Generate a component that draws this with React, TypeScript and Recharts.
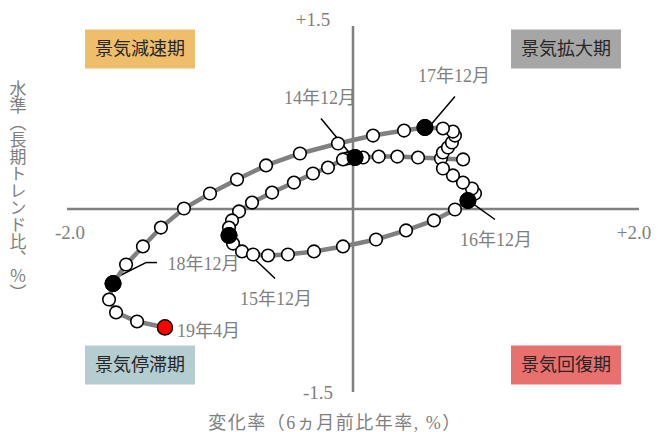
import {
  ScatterChart, Scatter, XAxis, YAxis,
  ReferenceLine, ReferenceArea, ReferenceDot, Label,
} from 'recharts';

// monthly points, 2014/6 - 2019/4
const months = [
  '14/6', '14/7', '14/8', '14/9', '14/10', '14/11', '14/12',
  '15/1', '15/2', '15/3', '15/4', '15/5', '15/6', '15/7', '15/8', '15/9', '15/10', '15/11', '15/12',
  '16/1', '16/2', '16/3', '16/4', '16/5', '16/6', '16/7', '16/8', '16/9', '16/10', '16/11', '16/12',
  '17/1', '17/2', '17/3', '17/4', '17/5', '17/6', '17/7', '17/8', '17/9', '17/10', '17/11', '17/12',
  '18/1', '18/2', '18/3', '18/4', '18/5', '18/6', '18/7', '18/8', '18/9', '18/10', '18/11', '18/12',
  '19/1', '19/2', '19/3', '19/4',
];

// 変化率 (6ヵ月前比年率)
const changeRate = [
  0.77, 0.615, 0.455, 0.31, 0.18, 0.07, 0.014,
  -0.021, -0.042, -0.07, -0.175, -0.28, -0.413, -0.566, -0.706, -0.797, -0.846, -0.867, -0.867,
  -0.839, -0.776, -0.699, -0.594, -0.455, -0.273, -0.07, 0.161, 0.371, 0.566, 0.713, 0.804,
  0.853, 0.832, 0.769, 0.699, 0.629, 0.629, 0.664, 0.692, 0.713, 0.699, 0.629, 0.503,
  0.357, 0.14, -0.105, -0.371, -0.608, -0.811, -1.0, -1.182, -1.343, -1.469, -1.587, -1.678,
  -1.706, -1.657, -1.51, -1.315,
];

// 水準 (長期トレンド比)
const level = [
  0.406, 0.414, 0.422, 0.43, 0.43, 0.422, 0.422,
  0.422, 0.414, 0.406, 0.34, 0.291, 0.217, 0.135, 0.053, -0.02, -0.094, -0.152, -0.217,
  -0.283, -0.348, -0.373, -0.381, -0.373, -0.348, -0.307, -0.25, -0.176, -0.094, -0.004, 0.07,
  0.127, 0.168, 0.217, 0.275, 0.332, 0.463, 0.504, 0.545, 0.602, 0.635, 0.66, 0.668,
  0.643, 0.602, 0.537, 0.455, 0.357, 0.242, 0.127, 0.004, -0.152, -0.307, -0.455, -0.611,
  -0.742, -0.848, -0.922, -0.971,
];

const markedMonths = ['14/12', '15/12', '16/12', '17/12', '18/12'];
const latestMonth = '19/4';

const GRAY = '#7f7f7f';
const FONT = "'Liberation Serif', 'Noto Sans CJK JP', serif";

const points = months.map((m, i) => ({ month: m, x: changeRate[i], y: level[i] }));
const marked = points.filter(p => markedMonths.includes(p.month) || p.month === latestMonth);

function Dot(props: any) {
  const { cx, cy, payload } = props;
  if (payload.month === latestMonth) {
    return <circle cx={cx} cy={cy} r={7.5} fill="#ff0000" stroke="#000" strokeWidth={1.2} />;
  }
  if (markedMonths.includes(payload.month)) {
    return <circle cx={cx} cy={cy} r={8} fill="#000" stroke="#000" strokeWidth={1} />;
  }
  return <circle cx={cx} cy={cy} r={6.3} fill="#fff" stroke="#000" strokeWidth={1.6} />;
}

function VerticalTitle(props: any) {
  const { viewBox } = props;
  return (
    <text
      x={viewBox.x}
      y={viewBox.y}
      textAnchor="middle"
      fill={GRAY}
      fontSize={17}
      fontFamily={FONT}
      style={{ writingMode: 'vertical-rl' }}
    >
      水準（長期トレンド比、％）
    </text>
  );
}

// annotation text: [text, x, y] in data units
const notes: [string, number, number][] = [
  ['14年12月', -0.231, 0.914],
  ['15年12月', -0.538, -0.733],
  ['16年12月', 1.0, -0.25],
  ['17年12月', 0.706, 1.094],
  ['18年12月', -1.045, -0.447],
  ['19年4月', -1.01, -0.996],
];

const leaders: { x: number; y: number }[][] = [
  [{ x: -0.224, y: 0.742 }, { x: -0.021, y: 0.455 }],
  [{ x: -0.846, y: -0.234 }, { x: -0.545, y: -0.57 }],
  [{ x: 0.818, y: 0.061 }, { x: 0.993, y: -0.086 }],
  [{ x: 0.713, y: 0.922 }, { x: 0.552, y: 0.7 }],
  [{ x: -1.629, y: -0.545 }, { x: -1.448, y: -0.439 }],
  [{ x: -1.448, y: -0.439 }, { x: -1.371, y: -0.439 }],
];

const ticks: [string, number, number][] = [
  ['+1.5', -0.28, 1.553],
  ['-1.5', -0.245, -1.504],
  ['-2.0', -1.979, -0.193],
  ['+2.0', 1.965, -0.193],
];

const quadrants: [string, string, number, number, number, number][] = [
  ['景気減速期', '#efbe6a', -1.874, -1.105, 1.152, 1.471],
  ['景気拡大期', '#a6a6a6', 1.105, 1.874, 1.152, 1.471],
  ['景気停滞期', '#b4cdd0', -1.874, -1.105, -1.439, -1.119],
  ['景気回復期', '#e8706e', 1.105, 1.874, -1.439, -1.119],
];

export default function App() {
  return (
    <div style={{ position: 'absolute', left: 0, top: 0, width: 658, height: 432 }}>
      <ScatterChart width={658} height={432} margin={{ top: 26, right: 19, bottom: 40, left: 67 }}>
        <XAxis type="number" dataKey="x" domain={[-2, 2]} hide />
        <YAxis type="number" dataKey="y" domain={[-1.5, 1.5]} hide />

        {quadrants.map(([t, c, x1, x2, y1, y2]) => (
          <ReferenceArea
            key={t}
            x1={x1} x2={x2} y1={y1} y2={y2}
            fill={c} fillOpacity={1} stroke="none"
            label={{ value: t, position: 'center', fill: '#262626', fontSize: 18, fontFamily: FONT }}
          />
        ))}

        <ReferenceLine x={0} stroke="#808080" strokeWidth={2.5} />
        <ReferenceLine y={0} stroke="#808080" strokeWidth={2.5} />

        <Scatter
          data={points}
          line={{ stroke: '#808080', strokeWidth: 4.5 }}
          lineType="joint"
          shape={Dot}
          isAnimationActive={false}
        />
        <Scatter data={marked} shape={Dot} isAnimationActive={false} />

        {leaders.map((seg, i) => (
          <ReferenceLine key={'l' + i} segment={seg} stroke="#000" strokeWidth={1.5} ifOverflow="visible" />
        ))}

        {notes.map(([t, x, y]) => (
          <ReferenceDot
            key={t} x={x} y={y} r={0} fill="none" stroke="none" ifOverflow="visible"
            label={{ value: t, position: 'center', fill: GRAY, fontSize: 18, fontFamily: FONT }}
          />
        ))}

        {ticks.map(([t, x, y]) => (
          <ReferenceDot
            key={t} x={x} y={y} r={0} fill="none" stroke="none" ifOverflow="visible"
            label={{ value: t, position: 'center', fill: GRAY, fontSize: 19, fontFamily: FONT }}
          />
        ))}

        <ReferenceDot
          x={-0.126} y={-1.75} r={0} fill="none" stroke="none" ifOverflow="visible"
          label={{
            value: '変化率（6ヵ月前比年率, %）', position: 'center', fill: GRAY,
            fontSize: 18, fontFamily: FONT, letterSpacing: 1.5,
          }}
        />
        <ReferenceDot x={-2.357} y={0.152} r={0} fill="none" stroke="none" ifOverflow="visible">
          <Label content={VerticalTitle} />
        </ReferenceDot>
      </ScatterChart>
    </div>
  );
}
